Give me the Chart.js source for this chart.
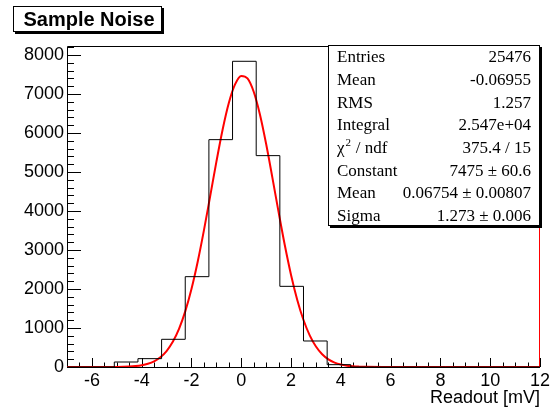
<!DOCTYPE html>
<html>
<head>
<meta charset="UTF-8">
<title>Sample Noise</title>
<style>
  html, body { margin: 0; padding: 0; background: #fff; }
  #box { width: 553px; height: 410px; }
</style>
</head>
<body>
<div id="box"><canvas id="myChart" width="553" height="410"></canvas></div>
<script src="https://cdn.jsdelivr.net/npm/chart.js@4/dist/chart.umd.min.js"></script>
<script>
// histogram: 20 bins from -7 to 12 (width 0.95)
const binLow = [-7, -6.05, -5.1, -4.15, -3.2, -2.25, -1.3, -0.35, 0.6, 1.55,
                2.5, 3.45, 4.4, 5.35, 6.3, 7.25, 8.2, 9.15, 10.1, 11.05];
const binHigh = 12;
const counts = [0, 0, 128, 214, 710, 2316, 5829, 7838, 5419, 2068,
                667, 60, 0, 0, 0, 0, 0, 0, 0, 0];

// gaussian fit curve
const fitX = [-7, -6, -5, -4.75, -4.5, -4.25, -4, -3.75, -3.5, -3.25, -3, -2.75, -2.5, -2.25,
              -2, -1.75, -1.5, -1.25, -1, -0.75, -0.5, -0.25, 0, 0.25, 0.5, 0.75, 1, 1.25,
              1.5, 1.75, 2, 2.25, 2.5, 2.75, 3, 3.25, 3.5, 3.75, 4, 4.25, 4.5, 4.75, 5, 6, 12];
const fitY = [0, 0, 3, 6, 12, 24, 45, 83, 147, 251, 410, 646, 978, 1426,
              1999, 2698, 3503, 4375, 5259, 6083, 6768, 7246, 7464, 7399, 7056, 6474, 5716, 4856,
              3969, 3121, 2361, 1719, 1204, 812, 526, 328, 197, 114, 63, 34, 17, 9, 4, 0, 0];

const xTicks = [-6, -4, -2, 0, 2, 4, 6, 8, 10, 12];
const yTicks = [0, 1000, 2000, 3000, 4000, 5000, 6000, 7000, 8000];

const statLabels = ['Entries', 'Mean', 'RMS', 'Integral', 'chi2', 'Constant', 'Mean', 'Sigma'];
const statValues = ['25476', '-0.06955', '1.257', '2.547e+04', '375.4 / 15',
                    '7475 ± 60.6', '0.06754 ± 0.00807', '1.273 ± 0.006'];

const histData = binLow.map((x, i) => ({x: x, y: counts[i]}));
histData.push({x: binHigh, y: 0});
const fitData = fitX.map((x, i) => ({x: x, y: fitY[i]}));

const sans = 'Liberation Sans, Arial, Helvetica, sans-serif';
const serif = 'Liberation Serif, Times New Roman, serif';

const rootDecor = {
    id: 'rootDecor',
    beforeDatasetsDraw(chart) {
        const ctx = chart.ctx;
        const a = chart.chartArea;
        const xs = chart.scales.x, ys = chart.scales.y;
        ctx.save();
        ctx.strokeStyle = '#000';
        ctx.lineWidth = 1;
        ctx.beginPath();
        // y ticks (inside the frame)
        for (let v = 0; v <= 8200; v += 200) {
            const py = Math.round(ys.getPixelForValue(v)) + 0.5;
            const len = (v % 1000 === 0) ? 14 : 7;
            ctx.moveTo(a.left, py);
            ctx.lineTo(a.left + len, py);
        }
        // x ticks
        for (let v = -6.5; v <= 12; v += 0.5) {
            const px = Math.round(xs.getPixelForValue(v)) + 0.5;
            const len = (Math.abs(v % 2) < 1e-6) ? 9 : 4.5;
            ctx.moveTo(px, a.bottom);
            ctx.lineTo(px, a.bottom - len);
        }
        ctx.stroke();
        // frame
        ctx.beginPath();
        ctx.moveTo(a.right, Math.round(a.top) + 0.5);
        ctx.lineTo(Math.round(a.left) + 0.5, Math.round(a.top) + 0.5);
        ctx.lineTo(Math.round(a.left) + 0.5, Math.round(a.bottom) + 0.5);
        ctx.lineTo(a.right, Math.round(a.bottom) + 0.5);
        ctx.stroke();
        ctx.strokeStyle = '#ff0000';
        ctx.beginPath();
        ctx.moveTo(Math.round(a.right) - 0.5, a.top);
        ctx.lineTo(Math.round(a.right) - 0.5, a.bottom);
        ctx.stroke();
        ctx.restore();
    },
    afterDraw(chart) {
        const ctx = chart.ctx;
        const a = chart.chartArea;
        ctx.save();
        // stats box
        const bx = 328, by = a.top - 1, bw = Math.round(a.right) - 328, bh = 181;
        ctx.fillStyle = '#000';
        ctx.fillRect(bx + 2, by + 2, bw, bh);
        ctx.fillStyle = '#fff';
        ctx.fillRect(bx, by, bw, bh);
        ctx.strokeStyle = '#000';
        ctx.lineWidth = 1;
        ctx.strokeRect(bx + 0.5, by + 0.5, bw - 1, bh - 1);
        ctx.fillStyle = '#000';
        ctx.font = '17px ' + serif;
        ctx.textBaseline = 'middle';
        statLabels.forEach((lab, i) => {
            const yy = 58 + 22.65 * i;
            ctx.textAlign = 'left';
            if (lab === 'chi2') {
                ctx.fillText('\u03c7', 337, yy);
                const w = ctx.measureText('\u03c7').width;
                ctx.font = '11px ' + serif;
                ctx.fillText('2', 337 + w + 1, yy - 5);
                ctx.font = '17px ' + serif;
                ctx.fillText(' / ndf', 337 + w + 7, yy);
            } else {
                ctx.fillText(lab, 337, yy);
            }
            ctx.textAlign = 'right';
            ctx.fillText(statValues[i], 531, yy);
        });
        // title box
        ctx.fillStyle = '#000';
        ctx.fillRect(15, 8, 149, 26);
        ctx.fillStyle = '#fff';
        ctx.fillRect(13, 6, 149, 26);
        ctx.strokeRect(13.5, 6.5, 148, 25);
        ctx.fillStyle = '#000';
        ctx.font = 'bold 20px ' + sans;
        ctx.textAlign = 'center';
        ctx.textBaseline = 'middle';
        ctx.fillText('Sample Noise', 89, 20);
        ctx.restore();
    }
};

const ctx = document.getElementById('myChart').getContext('2d');
const myChart = new Chart(ctx, {
    type: 'line',
    data: {
        datasets: [{
            label: 'hist',
            data: histData,
            stepped: 'before',
            borderColor: '#000',
            borderWidth: 1,
            pointRadius: 0,
            fill: false
        }, {
            label: 'gaus',
            data: fitData,
            borderColor: '#ff0000',
            borderWidth: 2,
            pointRadius: 0,
            cubicInterpolationMode: 'monotone',
            fill: false
        }]
    },
    plugins: [rootDecor],
    options: {
        responsive: false,
        animation: false,
        layout: { padding: { left: 0, top: 46, right: 12, bottom: 0 } },
        plugins: { legend: { display: false }, tooltip: { enabled: false } },
        scales: {
            x: {
                type: 'linear',
                min: -7,
                max: 12,
                afterBuildTicks: (s) => { s.ticks = xTicks.map(v => ({value: v})); },
                afterFit: (s) => { s.height = 43; },
                grid: { display: false, drawTicks: false },
                border: { display: false },
                ticks: { color: '#000', font: { family: sans, size: 18 }, padding: 3, maxRotation: 0,
                         callback: (v) => String(v) },
                title: { display: true, text: 'Readout [mV]', align: 'end', color: '#000',
                         font: { family: sans, size: 18 }, padding: { top: 0, bottom: 1 } }
            },
            y: {
                min: 0,
                max: 8230,
                afterBuildTicks: (s) => { s.ticks = yTicks.map(v => ({value: v})); },
                afterFit: (s) => { s.width = 67; },
                grid: { display: false, drawTicks: false },
                border: { display: false },
                ticks: { color: '#000', font: { family: sans, size: 18 }, padding: 3,
                         callback: (v) => String(v) }
            }
        }
    }
});
</script>
</body>
</html>
